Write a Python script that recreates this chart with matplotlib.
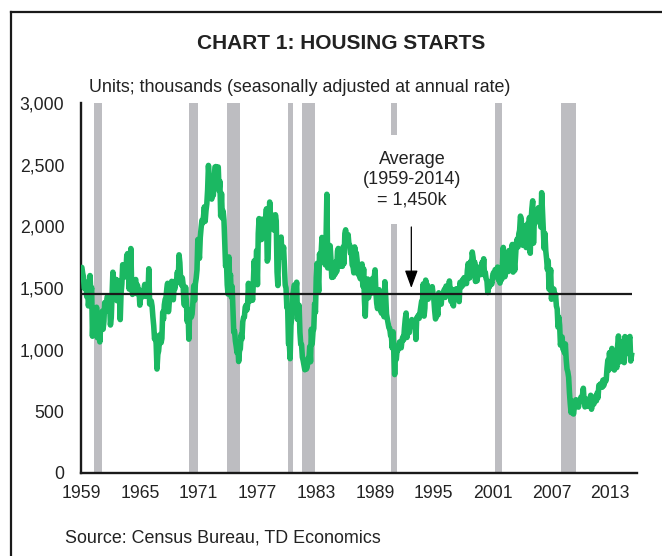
import numpy as np
import matplotlib
matplotlib.use('Agg')
import matplotlib.pyplot as plt
from matplotlib.lines import Line2D

plt.rcParams['font.family'] = ['Liberation Sans', 'DejaVu Sans']

# Monthly housing starts, thousands (SAAR), Jan 1959 onward
starts_1959_1969 = [
    1657, 1667, 1620, 1590, 1498, 1503, 1547, 1430, 1540, 1355, 1416, 1601,
    1460, 1503, 1109, 1289, 1271, 1247, 1197, 1344, 1097, 1246, 1246, 1063,
    1183, 1226, 1312, 1166, 1228, 1382, 1335, 1312, 1429, 1415, 1419, 1376,
    1200, 1258, 1452, 1628, 1559, 1474, 1409, 1569, 1397, 1561, 1541, 1474,
    1244, 1456, 1534, 1689, 1641, 1588, 1614, 1639, 1763, 1779, 1622, 1491,
    1603, 1820, 1517, 1448, 1467, 1550, 1562, 1569, 1455, 1524, 1486, 1484,
    1361, 1433, 1423, 1438, 1478, 1488, 1529, 1432, 1482, 1452, 1460, 1656,
    1370, 1378, 1394, 1352, 1265, 1194, 1086, 1119, 1046, 843, 961, 990,
    1067, 1123, 1056, 1091, 1304, 1248, 1364, 1407, 1421, 1491, 1538, 1308,
    1380, 1520, 1466, 1554, 1408, 1405, 1512, 1495, 1556, 1569, 1630, 1548,
    1769, 1705, 1561, 1524, 1583, 1528, 1368, 1358, 1507, 1381, 1229, 1327,
]
starts_1970s = [
    1085, 1305, 1319, 1264, 1290, 1385, 1517, 1399, 1534, 1580, 1647, 1893,
    1828, 1741, 1910, 1986, 2049, 2026, 2083, 2158, 2041, 2128, 2182, 2295,
    2494, 2390, 2334, 2249, 2221, 2254, 2252, 2382, 2481, 2485, 2421, 2366,
    2481, 2289, 2365, 2084, 2266, 2067, 2123, 2051, 1874, 1677, 1724, 1526,
    1451, 1752, 1555, 1607, 1426, 1513, 1316, 1142, 1150, 1070, 1026, 975,
    1032, 904, 993, 1005, 1121, 1087, 1226, 1260, 1264, 1344, 1360, 1321,
    1367, 1538, 1421, 1395, 1459, 1495, 1401, 1550, 1720, 1629, 1641, 1804,
    1527, 1943, 2063, 1892, 1971, 1893, 2058, 2020, 1949, 2042, 2042, 2142,
    1718, 1738, 2032, 2197, 2075, 2070, 2092, 1996, 1970, 1981, 2094, 2044,
    1630, 1520, 1847, 1748, 1876, 1913, 1760, 1778, 1832, 1681, 1524, 1498,
]
starts_1980s = [
    1341, 1350, 1047, 1051, 927, 1196, 1269, 1436, 1471, 1523, 1510, 1482,
    1547, 1246, 1306, 1360, 1140, 1045, 1041, 940, 911, 873, 837, 910,
    843, 866, 931, 917, 1025, 902, 1166, 1046, 1144, 1173, 1372, 1303,
    1586, 1699, 1606, 1472, 1776, 1733, 1785, 1910, 1710, 1715, 1785, 1688,
    1897, 2260, 1663, 1851, 1774, 1843, 1732, 1586, 1698, 1590, 1689, 1612,
    1711, 1632, 1800, 1821, 1680, 1676, 1684, 1743, 1676, 1834, 1698, 1942,
    1972, 1848, 1876, 1933, 1854, 1847, 1782, 1807, 1687, 1681, 1623, 1833,
    1774, 1784, 1726, 1614, 1628, 1594, 1575, 1605, 1695, 1515, 1656, 1400,
    1271, 1473, 1532, 1573, 1421, 1541, 1509, 1557, 1459, 1578, 1524, 1583,
    1647, 1471, 1377, 1333, 1361, 1486, 1417, 1314, 1295, 1387, 1334, 1267,
]
starts_1990s = [
    1551, 1437, 1289, 1248, 1212, 1177, 1171, 1115, 1110, 1014, 1145, 969,
    798, 965, 921, 1001, 996, 1036, 1063, 1049, 1015, 1079, 1103, 1079,
    1176, 1250, 1297, 1099, 1214, 1145, 1139, 1226, 1186, 1244, 1214, 1227,
    1210, 1210, 1083, 1258, 1260, 1280, 1254, 1300, 1343, 1392, 1376, 1533,
    1272, 1337, 1564, 1465, 1526, 1409, 1439, 1450, 1474, 1450, 1511, 1455,
    1407, 1316, 1249, 1267, 1314, 1281, 1461, 1416, 1369, 1369, 1452, 1431,
    1467, 1491, 1424, 1516, 1504, 1467, 1472, 1557, 1475, 1392, 1489, 1370,
    1355, 1486, 1457, 1492, 1442, 1494, 1437, 1390, 1546, 1520, 1510, 1566,
    1525, 1584, 1567, 1540, 1536, 1641, 1698, 1614, 1582, 1715, 1660, 1792,
    1748, 1670, 1710, 1553, 1611, 1559, 1669, 1648, 1635, 1608, 1648, 1708,
]
starts_2000s = [
    1636, 1737, 1604, 1626, 1575, 1559, 1463, 1541, 1507, 1549, 1551, 1532,
    1600, 1625, 1590, 1649, 1605, 1636, 1670, 1567, 1562, 1540, 1602, 1568,
    1698, 1829, 1642, 1592, 1764, 1717, 1655, 1633, 1804, 1648, 1753, 1788,
    1853, 1629, 1726, 1643, 1751, 1867, 1897, 1833, 1939, 1967, 2083, 2057,
    1911, 1846, 1998, 2003, 1981, 1828, 2002, 2024, 1905, 2072, 1782, 2042,
    2144, 2207, 1864, 2061, 2025, 2068, 2054, 2095, 2151, 2065, 2147, 1994,
    2273, 2119, 1969, 1821, 1942, 1802, 1737, 1650, 1720, 1491, 1570, 1649,
    1409, 1480, 1495, 1490, 1415, 1448, 1354, 1330, 1183, 1264, 1197, 1037,
    1084, 1103, 1005, 1013, 973, 1046, 923, 844, 820, 777, 652, 560,
    490, 582, 505, 478, 540, 585, 594, 586, 585, 534, 588, 581,
]
starts_2010_2015 = [
    614, 604, 636, 687, 583, 536, 546, 599, 594, 543, 545, 539,
    630, 517, 600, 554, 561, 608, 623, 585, 650, 610, 711, 694,
    723, 704, 695, 753, 708, 757, 740, 754, 847, 915, 833, 976,
    888, 962, 1010, 852, 919, 835, 896, 883, 855, 1034, 1111, 1012,
    902, 937, 963, 1067, 996, 895, 1106, 965, 1028, 1085, 1028, 1087,
    1107, 908, 954,
]

# NBER recessions: (start year, start month, end year, end month)
recessions = [
    (1960, 4, 1961, 2), (1969, 12, 1970, 11), (1973, 11, 1975, 3),
    (1980, 1, 1980, 7), (1981, 7, 1982, 11), (1990, 7, 1991, 3),
    (2001, 3, 2001, 11), (2007, 12, 2009, 6),
]

average = 1450
tick_years = [1959, 1965, 1971, 1977, 1983, 1989, 1995, 2001, 2007, 2013]
y_ticks = [0, 500, 1000, 1500, 2000, 2500, 3000]

starts = np.array(starts_1959_1969 + starts_1970s + starts_1980s
                  + starts_1990s + starts_2000s + starts_2010_2015)
dates = 1959 + np.arange(len(starts)) / 12.0

green = '#1bb862'
grey = '#bdbdc1'

fig = plt.figure(figsize=(6.62, 5.56), dpi=100)
ax = fig.add_axes([0.1224, 0.1493, 0.8399, 0.6654])

for y0, m0, y1, m1 in recessions:
    ax.axvspan(y0 + m0 / 12.0, y1 + m1 / 12.0, color=grey, lw=0, zorder=1)

ax.plot(dates, starts, color=green, lw=4.0, solid_joinstyle='round', zorder=3)
ax.hlines(average, dates[0], dates[-1], color='#1a1a1a', lw=1.6, zorder=4)

# annotation with white box hiding the recession bar behind it
ax.text(1992.8, 2380, 'Average\n(1959-2014)\n= 1,450k', ha='center', va='center',
        fontsize=13, linespacing=1.25, color='#222222', zorder=5,
        bbox=dict(boxstyle='square,pad=0.85', fc='white', ec='none'))
ax.annotate('', xy=(1992.7, 1500), xytext=(1992.7, 1995),
            arrowprops=dict(arrowstyle='-|>,head_length=0.6,head_width=0.22',
                            color='black', lw=0.9, mutation_scale=18,
                            shrinkA=0, shrinkB=0), zorder=6)

ax.set_xlim(1959, 2015.73)
ax.set_ylim(0, 3000)
ax.set_xticks(tick_years)
ax.set_xticklabels([str(y) for y in tick_years])
ax.set_yticks(y_ticks)
ax.set_yticklabels([f'{v:,}' for v in y_ticks])
ax.tick_params(axis='both', length=0, labelsize=12.7, colors='#222222')
ax.tick_params(axis='y', pad=12)
ax.tick_params(axis='x', pad=9)

for side in ['top', 'right']:
    ax.spines[side].set_visible(False)
for side in ['left', 'bottom']:
    ax.spines[side].set_linewidth(1.7)
    ax.spines[side].set_color('#1a1a1a')

fig.text(0.515, 0.922, 'CHART 1: HOUSING STARTS', ha='center', va='center',
         fontsize=15, fontweight='bold', color='#222222')
fig.text(0.1344, 0.8435, 'Units; thousands (seasonally adjusted at annual rate)',
         ha='left', va='center', fontsize=12.9, color='#222222')
fig.text(0.098, 0.0324, 'Source: Census Bureau, TD Economics',
         ha='left', va='center', fontsize=12.9, color='#222222')

# outer frame (top and left edges visible)
fig.add_artist(Line2D([0.0166, 0.0166], [0.0, 0.979], color='#1a1a1a', lw=1.6,
                      transform=fig.transFigure))
fig.add_artist(Line2D([0.0166, 1.0], [0.979, 0.979], color='#1a1a1a', lw=1.6,
                      transform=fig.transFigure))

fig.savefig('out.png', dpi=100)
